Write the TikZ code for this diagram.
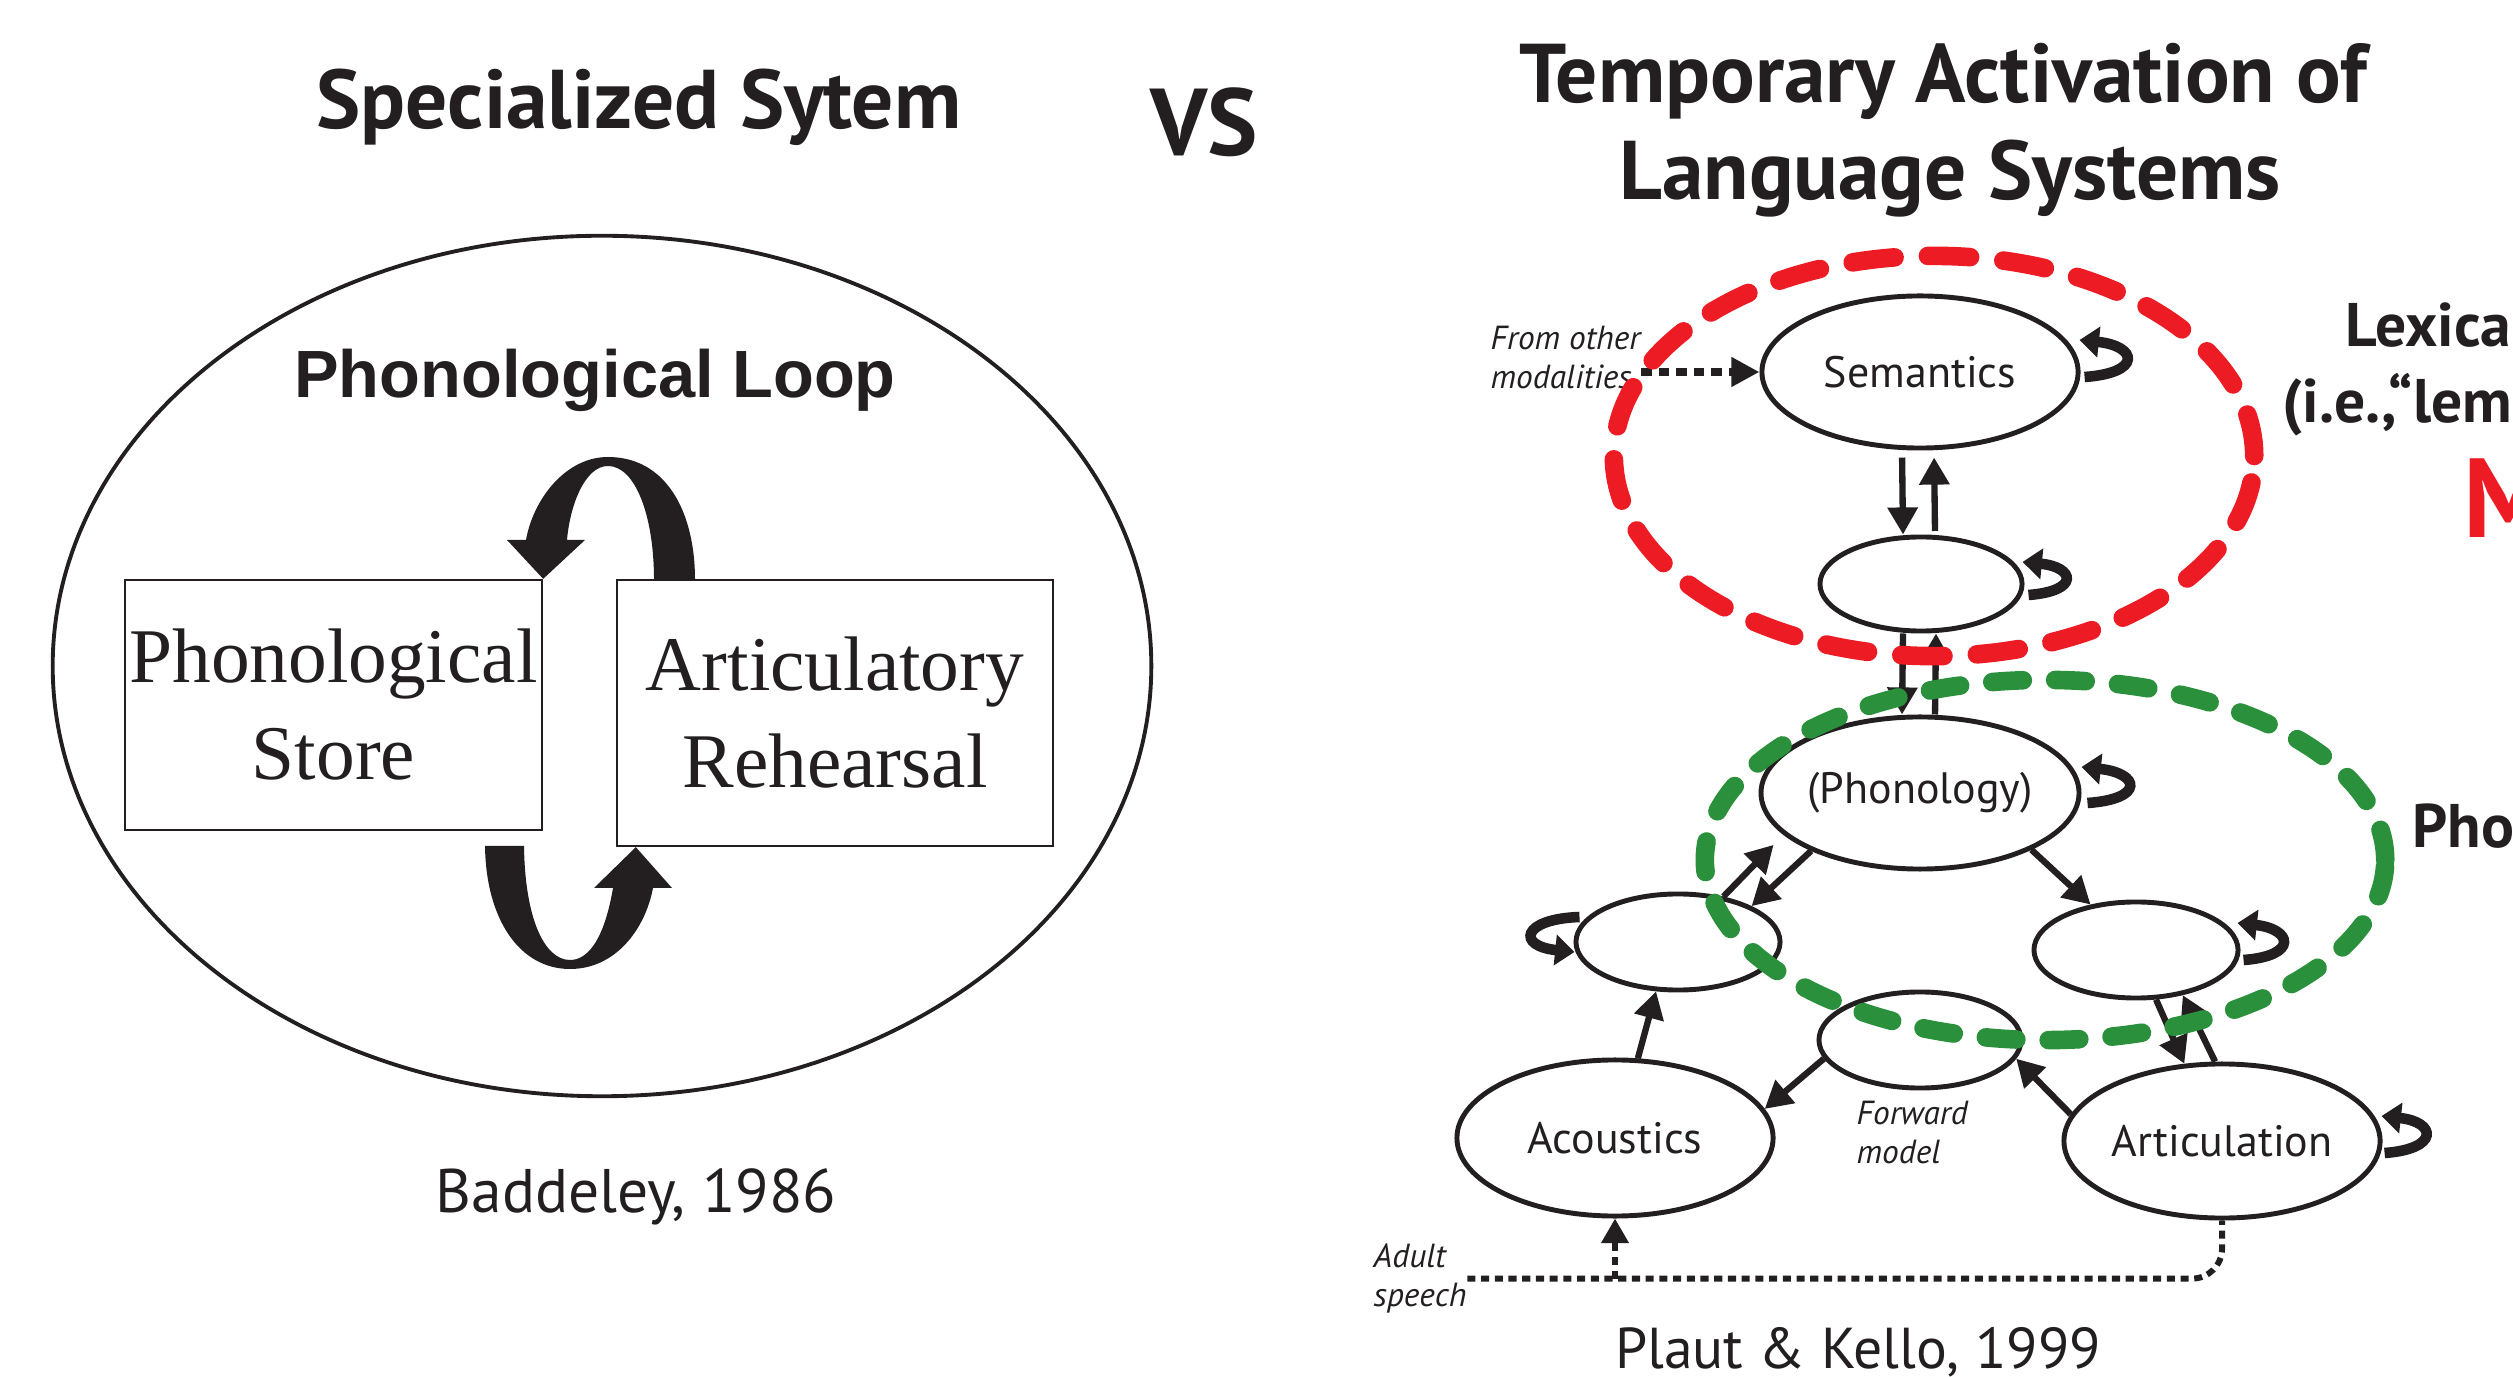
\documentclass[tikz,border=0pt]{standalone}
\usepackage{fontspec}
\setmainfont{PT Sans}
\newfontfamily\timesfont{Liberation Serif}
\newfontfamily\arialfont{Liberation Sans}
\usetikzlibrary{shapes.geometric, arrows.meta, positioning}
\definecolor{ink}{HTML}{231F20}
\definecolor{loopred}{HTML}{ED1C24}
\definecolor{loopgreen}{HTML}{2A903B}

\begin{document}
\begin{tikzpicture}[x=0.01cm, y=-0.01cm, ink,
    unit/.style={ellipse, draw, line width=1.4pt, inner sep=0pt, font=\fontsize{12.5}{15}\selectfont},
    box/.style={draw, line width=0.6pt, align=center, inner sep=0pt, font=\timesfont\fontsize{22}{27.6}\selectfont},
    arr/.style={line width=1.8pt, -{Triangle[width=8.3pt,length=7.7pt]}},
    selfloop/.style={line width=3pt, -{Triangle[width=8.5pt,length=5.5pt]}},
    dotarr/.style={line width=1.7pt, dash pattern=on 2.3pt off 1.6pt},
    note/.style={font=\itshape\fontsize{9.5}{11.2}\selectfont, align=left, inner sep=0pt, anchor=north west},
    heading/.style={font=\bfseries\fontsize{23.7}{28}\selectfont, inner sep=0pt, anchor=base},
    sidelabel/.style={font=\bfseries\fontsize{17.5}{21}\selectfont, inner sep=0pt, anchor=base west},
    dashring/.style={line width=5.3pt, line cap=round}]
        \useasboundingbox (0,0) rectangle (2513,1377);
        \clip (0,0) rectangle (2513,1377);
        % Headings
        \node[heading] (spec) at (639,129) {Specialized Sytem};
        \node[heading, font=\bfseries\fontsize{27}{32}\selectfont] (vs) at (1204,156) {VS};
        \node[heading] (temp) at (1943,103) {Temporary Activation of};
        \node[heading] (lang) at (1950,200) {Language Systems};
        % Baddeley model
        \draw[line width=1.1pt] (602,666) ellipse [x radius=5.49cm, y radius=4.3cm];
        \node[font=\arialfont\bfseries\fontsize{19}{23}\selectfont, inner sep=0pt, anchor=base] (plname) at (595,398) {Phonological Loop};
        \node[box, minimum width=4.17cm, minimum height=2.5cm] (store) at (333.5,705) {Phonological\\Store};
        \node[box, minimum width=4.36cm, minimum height=2.66cm] (rehearsal) at (835,713) {Articulatory\\Rehearsal};
        % Loop arrows
        \fill (store.north east) -- (507,540) -- (526,540)
            .. controls (533,500) and (565,457) .. (608,457)
            .. controls (665,457) and (695,510) .. (695,580)
            -- (654,580)
            .. controls (654,515) and (635,466) .. (608,466)
            .. controls (585,466) and (570,505) .. (567,540)
            -- (585,540) -- cycle;
        \fill ([xshift=0.2cm]rehearsal.south west) -- (672,888) -- (653,888)
            .. controls (645,930) and (615,969) .. (570,969)
            .. controls (520,969) and (486,920) .. (485,846)
            -- (524,846)
            .. controls (525,920) and (545,960) .. (570,960)
            .. controls (590,960) and (605,935) .. (613,888)
            -- (594,888) -- cycle;
        \node[font=\fontsize{17.5}{21}\selectfont, inner sep=0pt, anchor=base] (baddeley) at (636,1212) {Baddeley, 1986};
        % Plaut & Kello model
        \node[unit, minimum width=3.16cm, minimum height=1.52cm] (sem) at (1920,372) {Semantics};
        \node[unit, minimum width=2.02cm, minimum height=0.94cm] (lex) at (1921,584) {};
        \node[unit, minimum width=3.16cm, minimum height=1.52cm] (phon) at (1920,793) {(Phonology)};
        \node[unit, minimum width=2.04cm, minimum height=0.96cm] (acHid) at (1678,942) {};
        \node[unit, minimum width=2.04cm, minimum height=0.96cm] (arHid) at (2136,950) {};
        \node[unit, minimum width=2.02cm, minimum height=0.96cm] (fwd) at (1920,1040) {};
        \node[unit, minimum width=3.16cm, minimum height=1.56cm] (acous) at (1615,1138) {Acoustics};
        \node[unit, minimum width=3.16cm, minimum height=1.54cm] (artic) at (2222,1141) {Articulation};
        \node[note] (other) at (1490,325) {From other\\modalities};
        \node[note] (fwdtext) at (1856,1100) {Forward\\model};
        \node[note] (adult) at (1373,1243) {Adult\\speech};
        \node[heading] (plaut) at (1858,1368) {\mdseries\fontsize{16.4}{20}\selectfont Plaut \& Kello, 1999};
        % Connections
        \draw[arr, shorten <=2pt] ([xshift=-0.18cm]sem.south) -- ([xshift=-0.18cm]lex.north);
        \draw[arr, shorten <=1pt, shorten >=2pt] ([xshift=0.14cm]lex.north) -- ([xshift=0.14cm]sem.south);
        \draw[arr] ([xshift=-0.18cm]lex.south) -- ([xshift=-0.18cm]phon.north);
        \draw[arr] ([xshift=0.15cm]phon.north) -- ([xshift=0.15cm]lex.south);
        \draw[arr, shorten >=4pt] (acHid.45) -- (phon.197);
        \draw[arr] (phon.208) -- (acHid.26);
        \draw[arr] (phon.333) -- (arHid.135);
        \draw[arr] (arHid.292) -- (artic.116);
        \draw[arr] (artic.95) -- (arHid.316);
        \draw[arr] (acous.74) -- (acHid.246);
        \draw[arr] (fwd.191) -- (acous.11);
        \draw[arr] (artic.170) -- (fwd.349);
        % Self connections
        \draw[selfloop] ([shift={(4,5)}]sem.east) .. controls +(58,-4) and +(58,6) .. ([shift={(-1,-32)}]sem.east);
        \draw[selfloop] ([shift={(4,11)}]lex.east) .. controls +(52,-4) and +(52,5) .. ([shift={(-2,-22)}]lex.east);
        \draw[selfloop] ([shift={(6,10)}]phon.east) .. controls +(58,-4) and +(58,6) .. ([shift={(0,-26)}]phon.east);
        \draw[selfloop] ([shift={(3,10)}]arHid.east) .. controls +(55,-4) and +(55,6) .. ([shift={(-3,-27)}]arHid.east);
        \draw[selfloop] ([shift={(2,12)}]artic.east) .. controls +(55,-4) and +(55,6) .. ([shift={(-1,-25)}]artic.east);
        \draw[selfloop] ([shift={(6,-25)}]acHid.west) .. controls +(-58,2) and +(-58,-6) .. ([shift={(1,10)}]acHid.west);
        % Inputs
        \draw[line width=2.2pt, dash pattern=on 3pt off 2pt, -{Triangle[width=8pt,length=8pt]}] (other.east |- sem.west) -- (sem.west);
        \draw[dotarr, rounded corners=0.3cm] (adult.east) -| (artic.south);
        \draw[dotarr, -{Triangle[width=7.5pt,length=7pt]}] (acous.south |- adult.east) -- (acous.south);
        % Groupings
        \draw[loopgreen, dashring, dash pattern=on 8.7pt off 9.2pt] (2045,860) ellipse [x radius=3.4cm, y radius=1.8cm];
        \draw[loopred, dashring, dash pattern=on 12pt off 9.5pt] (1934,456) ellipse [x radius=3.2cm, y radius=2cm];
        \node[sidelabel] (lexical) at (2345,347) {Lexical};
        \node[sidelabel] (lemma) at (2282,423) {(i.e.,“lem};
        \node[sidelabel, loopred, font=\bfseries\fontsize{32}{38}\selectfont] (mem) at (2463,538) {M};
        \node[sidelabel] (pho) at (2412,848) {Pho};
\end{tikzpicture}
\end{document}
